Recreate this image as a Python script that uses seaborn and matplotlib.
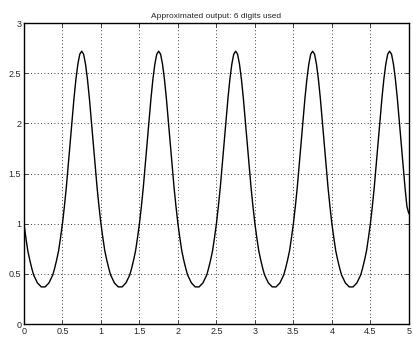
import numpy as np
import pandas as pd
import matplotlib
matplotlib.use("Agg")
import matplotlib.pyplot as plt
import seaborn as sns

x_values = [round(0.025 * i, 3) for i in range(201)]
y_values = [
    1.00, 0.86, 0.73, 0.64, 0.56, 0.49, 0.45, 0.41, 0.39, 0.37,
    0.37, 0.37, 0.39, 0.41, 0.45, 0.49, 0.56, 0.64, 0.73, 0.86,
    1.00, 1.17, 1.36, 1.58, 1.80, 2.03, 2.25, 2.44, 2.59, 2.69,
    2.72, 2.69, 2.59, 2.44, 2.25, 2.03, 1.80, 1.58, 1.36, 1.17,
    1.00, 0.86, 0.73, 0.64, 0.56, 0.49, 0.45, 0.41, 0.39, 0.37,
    0.37, 0.37, 0.39, 0.41, 0.45, 0.49, 0.56, 0.64, 0.73, 0.86,
    1.00, 1.17, 1.36, 1.58, 1.80, 2.03, 2.25, 2.44, 2.59, 2.69,
    2.72, 2.69, 2.59, 2.44, 2.25, 2.03, 1.80, 1.58, 1.36, 1.17,
    1.00, 0.86, 0.73, 0.64, 0.56, 0.49, 0.45, 0.41, 0.39, 0.37,
    0.37, 0.37, 0.39, 0.41, 0.45, 0.49, 0.56, 0.64, 0.73, 0.86,
    1.00, 1.17, 1.36, 1.58, 1.80, 2.03, 2.25, 2.44, 2.59, 2.69,
    2.72, 2.69, 2.59, 2.44, 2.25, 2.03, 1.80, 1.58, 1.36, 1.17,
    1.00, 0.86, 0.73, 0.64, 0.56, 0.49, 0.45, 0.41, 0.39, 0.37,
    0.37, 0.37, 0.39, 0.41, 0.45, 0.49, 0.56, 0.64, 0.73, 0.86,
    1.00, 1.17, 1.36, 1.58, 1.80, 2.03, 2.25, 2.44, 2.59, 2.69,
    2.72, 2.69, 2.59, 2.44, 2.25, 2.03, 1.80, 1.58, 1.36, 1.17,
    1.00, 0.86, 0.73, 0.64, 0.56, 0.49, 0.45, 0.41, 0.39, 0.37,
    0.37, 0.37, 0.39, 0.41, 0.45, 0.49, 0.56, 0.64, 0.73, 0.86,
    1.00, 1.17, 1.36, 1.58, 1.80, 2.03, 2.25, 2.44, 2.59, 2.69,
    2.72, 2.69, 2.59, 2.44, 2.25, 2.03, 1.80, 1.58, 1.36, 1.17,
    1.10,
]
x_ticks = [0, 0.5, 1, 1.5, 2, 2.5, 3, 3.5, 4, 4.5, 5]
x_tick_labels = ["0", "0.5", "1", "1.5", "2", "2.5", "3", "3.5", "4", "4.5", "5"]
y_ticks = [0, 0.5, 1, 1.5, 2, 2.5, 3]
y_tick_labels = ["0", "0.5", "1", "1.5", "2", "2.5", "3"]
title = "Approximated output: 6 digits used"


def main():
    sns.set_style("white")
    plt.rcParams["font.family"] = ["Liberation Sans", "DejaVu Sans"]

    df = pd.DataFrame({"x": x_values, "y": y_values})

    fig = plt.figure(figsize=(4.13, 3.4), dpi=100)
    ax = fig.add_axes([0.058, 0.047, 0.932, 0.885])

    sns.lineplot(data=df, x="x", y="y", color="black", linewidth=1.0, ax=ax)

    ax.set_xlim(0, 5)
    ax.set_ylim(0, 3)
    ax.set_xticks(x_ticks)
    ax.set_xticklabels(x_tick_labels)
    ax.set_yticks(y_ticks)
    ax.set_yticklabels(y_tick_labels)
    ax.set_xlabel("")
    ax.set_ylabel("")
    ax.tick_params(direction="in", length=3, width=0.6, labelsize=6.5, pad=2,
                   bottom=True, left=True, top=True, right=True)
    ax.grid(True, linestyle=(0, (1, 3)), color="black", linewidth=0.6)
    for spine in ax.spines.values():
        spine.set_color("black")
        spine.set_linewidth(1.0)

    ax.set_title(title, fontsize=6, pad=4)

    plt.savefig("out.png", dpi=100)


if __name__ == "__main__":
    main()
